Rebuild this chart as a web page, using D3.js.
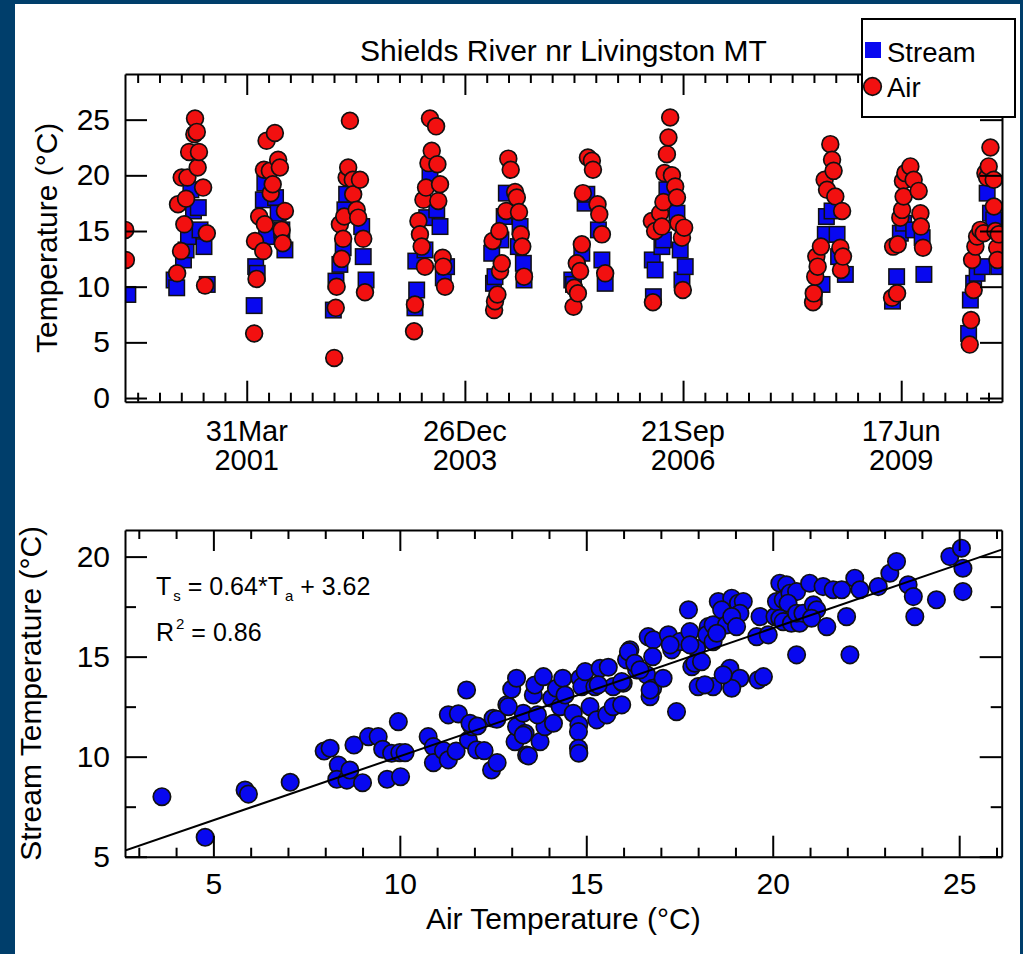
<!DOCTYPE html>
<html><head><meta charset="utf-8">
<script src="https://cdn.jsdelivr.net/npm/d3@7"></script>
<style>
html,body{margin:0;padding:0;background:#003e6b;}
svg{display:block;}
text{font-family:"Liberation Sans",Arial,Helvetica,sans-serif;fill:#000;}
</style></head><body>
<svg id="chart" width="1023" height="954"></svg>
<script>
// ---------------- DATA ----------------
const chartTitle = "Shields River nr Livingston MT";
const timeDomain = ["1999-09-20", "2010-09-22"];
const majorDateTicks = ["2001-03-31", "2003-12-26", "2006-09-21", "2009-06-17"];
const minorTickStepDays = 100;
const tempTicks = [0, 5, 10, 15, 20, 25];

const streamDates = [
 "1999-10-03",
 "2000-05-02","2000-05-14","2000-06-14","2000-06-26","2000-07-07","2000-07-18","2000-07-30","2000-08-21","2000-08-29","2000-09-16","2000-10-01",
 "2001-05-04","2001-05-11","2001-05-18","2001-06-15","2001-06-22","2001-06-30","2001-08-10","2001-08-22","2001-09-08","2001-09-22",
 "2002-05-02","2002-05-14","2002-06-01","2002-06-16","2002-06-24","2002-07-02","2002-09-09","2002-09-16","2002-09-29",
 "2003-05-11","2003-05-15","2003-05-19","2003-06-26","2003-07-04","2003-07-19","2003-08-19","2003-09-03","2003-09-18","2003-10-03",
 "2004-04-27","2004-05-05","2004-05-12","2004-06-08","2004-06-23","2004-07-03","2004-08-27","2004-09-04","2004-09-19","2004-09-22",
 "2005-04-29","2005-05-07","2005-06-14","2005-06-29","2005-07-07","2005-08-29","2005-09-14","2005-09-29",
 "2006-05-03","2006-05-08","2006-05-16","2006-06-16","2006-06-23","2006-07-09","2006-08-24","2006-09-08","2006-09-16","2006-10-01",
 "2008-05-14","2008-06-19","2008-07-04","2008-07-09","2008-08-04","2008-08-27","2008-09-03","2008-10-04",
 "2009-05-08","2009-05-27","2009-06-13","2009-06-28","2009-08-13","2009-09-21","2009-09-29",
 "2010-04-22","2010-04-30","2010-05-15","2010-05-31","2010-06-23","2010-07-16","2010-07-31","2010-08-15","2010-09-07","2010-09-15"
];
const streamTemps = [
 9.3,
 10.6,9.9,12.4,13.3,14.5,18.7,16.8,17.1,15.1,13.6,10.2,
 8.3,11.8,11.2,17.8,19.3,14.5,18.0,16.6,15.1,13.3,
 7.9,10.5,12.0,13.5,16.9,18.3,15.4,12.7,10.6,
 8.1,12.3,9.7,13.3,16.2,20.2,16.9,15.4,10.8,11.8,
 13.0,10.3,10.9,14.2,16.3,18.4,13.6,15.4,12.1,10.6,
 10.6,10.2,13.0,17.5,18.3,15.1,12.4,10.3,
 12.4,9.1,11.5,13.6,14.2,18.7,16.6,13.3,10.6,11.8,
 9.1,10.2,14.7,16.3,16.8,14.7,12.7,11.1,
 8.7,10.9,14.8,15.7,15.1,14.4,11.1,
 5.8,8.8,10.3,11.2,11.8,18.4,16.6,16.0,11.8,13.6
];

const airDates = [
 "1999-09-21","1999-09-24",
 "2000-05-16","2000-05-20","2000-06-03","2000-06-06","2000-06-18","2000-06-26","2000-07-02","2000-07-10","2000-08-03","2000-08-06","2000-08-14","2000-08-18","2000-08-24","2000-09-12","2000-09-21","2000-09-29",
 "2001-05-04","2001-05-08","2001-05-15","2001-05-27","2001-06-15","2001-06-18","2001-06-22","2001-06-30","2001-07-15","2001-07-19","2001-07-28","2001-08-07","2001-08-22","2001-08-30","2001-09-07","2001-09-12","2001-09-22",
 "2002-05-06","2002-05-13","2002-05-17","2002-06-01","2002-06-09","2002-06-16","2002-06-21","2002-07-02","2002-07-09","2002-07-17","2002-07-30","2002-08-01","2002-08-17","2002-08-24","2002-09-01","2002-09-16","2002-09-24",
 "2003-05-07","2003-05-11","2003-05-27","2003-06-03","2003-06-11","2003-06-19","2003-06-26","2003-07-01","2003-07-12","2003-07-19","2003-07-27","2003-08-16","2003-08-22","2003-08-26","2003-09-03","2003-09-15","2003-09-18","2003-09-26",
 "2004-05-01","2004-05-08","2004-05-12","2004-05-23","2004-06-01","2004-06-04","2004-06-12","2004-07-02","2004-07-12","2004-07-23","2004-08-12","2004-08-20","2004-08-30","2004-09-07","2004-09-14","2004-09-22",
 "2005-05-07","2005-05-10","2005-05-22","2005-05-27","2005-06-06","2005-06-14","2005-06-19","2005-07-12","2005-07-30","2005-08-04","2005-08-25","2005-09-02","2005-09-14","2005-09-29",
 "2006-05-01","2006-05-06","2006-05-16","2006-06-08","2006-06-16","2006-06-23","2006-06-28","2006-07-09","2006-07-16","2006-07-24","2006-08-01","2006-08-16","2006-08-24","2006-08-31","2006-09-16","2006-09-20","2006-09-26",
 "2008-05-09","2008-05-12","2008-05-19","2008-05-24","2008-05-30","2008-06-14","2008-07-01","2008-07-12","2008-07-27","2008-08-04","2008-08-11","2008-08-19","2008-09-11","2008-09-14","2008-09-19","2008-09-23",
 "2009-05-06","2009-05-11","2009-05-29","2009-06-01","2009-06-13","2009-06-21","2009-06-25","2009-06-28","2009-07-06","2009-07-29","2009-08-13","2009-09-05","2009-09-13","2009-09-15","2009-09-25",
 "2010-04-27","2010-05-03","2010-05-08","2010-05-15","2010-05-23","2010-05-31","2010-06-15","2010-06-30","2010-07-08","2010-07-16","2010-07-23","2010-07-31","2010-08-15","2010-08-16","2010-08-23","2010-08-31","2010-09-01","2010-09-07"
];
const airTemps = [
 15.1,12.4,
 11.2,17.4,13.2,19.8,15.6,17.9,19.8,22.1,23.7,25.1,23.9,20.7,22.1,18.9,10.1,14.8,
 5.8,14.1,10.7,16.3,13.2,20.5,15.6,23.1,20.4,18.4,19.2,23.8,21.4,20.7,15.1,13.9,16.8,
 3.6,8.1,10.0,15.6,12.5,14.3,16.3,19.8,20.7,24.9,19.6,18.3,16.9,16.2,19.6,14.3,9.5,
 6.0,8.4,15.9,14.7,13.6,17.8,11.8,18.9,21.1,25.1,22.2,24.4,21.0,17.7,19.2,12.6,11.8,10.0,
 14.1,7.9,8.7,9.3,15.0,11.4,12.1,16.8,21.5,20.5,18.5,18.0,16.7,14.7,13.6,10.9,
 8.2,9.9,12.1,9.4,11.4,13.8,18.4,21.6,21.3,20.5,17.4,16.5,14.7,11.2,
 15.9,8.6,15.0,16.6,15.4,17.6,20.2,21.9,23.4,25.2,20.0,19.0,18.0,15.7,14.4,9.7,15.3,
 8.6,9.4,10.9,12.7,11.8,13.6,19.6,18.7,22.8,21.4,20.4,18.1,13.5,11.5,16.8,12.7,
 9.0,13.6,9.4,13.8,16.2,16.9,19.5,18.1,20.2,20.8,19.6,18.6,16.6,15.4,13.5,
 4.8,7.0,12.4,9.7,13.6,14.5,15.1,14.8,20.2,19.8,20.8,22.5,19.6,17.2,15.0,13.5,12.4,14.7
];

// scatter: air temperature (x) vs stream temperature (y)
const scatterAirT = [
 3.62,4.78,5.85,5.94,7.06,7.97,8.13,8.35,8.31,8.58,8.66,8.77,9.0,9.16,9.42,9.54,9.66,9.78,10.02,10.0,
 10.14,9.96,10.76,10.9,10.9,11.17,11.3,11.51,11.84,12.06,12.26,12.46,12.61,11.93,13.09,13.13,13.4,13.36,13.76,13.89,
 11.79,11.3,11.57,11.88,12.5,12.87,13.0,13.13,13.58,13.62,13.85,13.31,12.08,12.6,12.91,13.31,13.45,13.69,14.12,14.07,
 14.3,14.2,14.37,14.43,14.65,14.83,14.8,14.79,14.79,14.8,14.88,14.97,15.1,15.23,15.28,15.37,15.59,15.55,15.72,15.72,
 15.95,15.99,16.08,16.17,16.35,16.62,16.66,16.8,16.78,16.71,16.78,17.06,17.2,17.29,17.51,17.42,17.74,17.78,17.83,17.96,
 18.0,15.32,15.95,16.13,16.3,16.44,16.71,17.25,17.78,17.91,18.09,18.27,18.23,18.4,18.54,18.9,18.63,18.76,19.08,19.21,
 19.12,18.9,19.03,18.4,18.5,18.85,19.12,18.9,18.4,18.18,18.67,19.66,19.57,19.61,19.75,19.88,20.06,20.1,20.19,20.37,
 20.28,20.46,20.64,20.41,20.19,20.28,20.5,20.72,20.64,20.81,21.09,21.18,20.99,21.04,20.64,21.45,21.35,21.62,21.85,21.98,
 22.07,22.2,22.34,22.83,23.14,23.32,23.63,23.77,23.81,24.39,24.75,25.06,25.1,25.1
];
const scatterStreamT = [
 8.0,5.97,8.33,8.13,8.72,10.28,10.42,9.58,8.87,8.83,9.33,10.58,8.7,11.0,11.0,10.37,8.87,10.17,9.0,10.2,
 10.2,11.75,11.0,10.5,9.7,10.3,9.84,10.28,10.83,10.34,10.3,9.33,9.7,11.5,10.75,11.5,10.08,11.17,10.75,11.5,
 13.33,12.09,12.14,11.67,11.92,12.59,13.37,13.92,13.08,13.58,14.0,12.17,11.53,11.87,12.5,11.08,10.04,12.09,11.67,12.92,
 12.5,13.42,13.92,13.08,12.17,13.92,11.59,11.25,10.42,10.17,13.5,14.25,12.5,13.5,11.84,14.42,14.47,12.09,12.5,13.5,
 12.59,13.67,14.84,15.34,14.34,14.09,16.0,15.84,13.42,13.0,15.0,13.92,16.09,15.34,15.75,12.25,17.34,16.25,14.5,15.42,
 13.5,13.59,13.75,15.25,14.67,14.34,13.33,15.59,15.59,14.67,14.75,16.5,16.09,16.59,17.75,17.92,17.34,16.59,17.67,17.75,
 17.17,17.0,16.5,15.75,16.17,14.42,13.92,13.42,13.5,13.59,14.09,17.0,16.0,13.84,14.0,16.09,17.0,17.75,18.67,18.59,
 17.84,18.17,18.25,17.67,16.92,16.75,16.67,16.67,17.17,17.17,17.59,17.34,18.67,16.92,15.09,16.5,18.5,18.34,18.34,17.0,
 15.09,18.92,18.34,18.5,19.17,19.75,18.59,18.0,17.0,17.84,20.0,20.42,19.42,18.25
];
const fitSlope = 0.64, fitIntercept = 3.62, fitR2 = 0.86;
const scatterXDomain = [2.63, 26.14];
const scatterYDomain = [5, 21.33];
const scatterXMajor = [5, 10, 15, 20, 25];
const scatterXMinor = [3,4,6,7,8,9,11,12,13,14,16,17,18,19,21,22,23,24,26];
const scatterYMajor = [5, 10, 15, 20];
const scatterYMinor = [7.5, 12.5, 17.5];

// ---------------- DRAW ----------------
const FONT = 30;
const BLUE = "#0808f0", RED = "#f21010";
const svg = d3.select("#chart");
const parse = d3.utcParse("%Y-%m-%d");

svg.append("rect").attr("x",0).attr("y",0).attr("width",1023).attr("height",954).attr("fill","#003e6b");
svg.append("rect").attr("x",15).attr("y",4).attr("width",1005).attr("height",950).attr("fill","#fff");

function styleAxis(g){
  g.attr("font-size",null).attr("font-family",null);
  g.selectAll(".domain").attr("stroke","#000").attr("stroke-width",2);
  g.selectAll(".tick line").attr("stroke","#000").attr("stroke-width",2);
  g.selectAll(".tick text").attr("font-size",FONT).attr("fill","#000");
}

// ===== Top: time series =====
const tp = {l:125, r:1002, t:74, b:401.7};
const xTime = d3.scaleUtc().domain(timeDomain.map(parse)).range([tp.l, tp.r]);
const yTop = d3.scaleLinear().domain([-0.33, 29.1]).range([tp.b, tp.t]);

const majors = majorDateTicks.map(parse);
const dom = xTime.domain();
const minors = d3.range(-10, 40).map(k => d3.utcDay.offset(majors[0], k*minorTickStepDays))
  .filter(d => d > dom[0] && d < dom[1] && !majors.some(m => +m === +d));

svg.append("defs").append("clipPath").attr("id","clipTop")
  .append("rect").attr("x",tp.l).attr("y",tp.t).attr("width",tp.r-tp.l).attr("height",tp.b-tp.t);

const markTop = svg.append("g").attr("clip-path","url(#clipTop)");
const sq = 15.5;
markTop.selectAll("rect.stream").data(streamDates.map((d,i)=>({d:parse(d), v:streamTemps[i]})))
  .join("rect").attr("class","stream")
  .attr("x", p => xTime(p.d)-sq/2).attr("y", p => yTop(p.v)-sq/2)
  .attr("width",sq).attr("height",sq)
  .attr("fill",BLUE).attr("stroke","#111").attr("stroke-width",1.5);
markTop.selectAll("circle.air").data(airDates.map((d,i)=>({d:parse(d), v:airTemps[i]})))
  .join("circle").attr("class","air")
  .attr("cx", p => xTime(p.d)).attr("cy", p => yTop(p.v)).attr("r",8.4)
  .attr("fill",RED).attr("stroke","#111").attr("stroke-width",1.7);

// axes
svg.append("g").attr("transform",`translate(${tp.l},0)`)
  .call(d3.axisLeft(yTop).tickValues(tempTicks).tickSize(-22).tickSizeOuter(0).tickPadding(15))
  .call(styleAxis);
svg.append("g").attr("transform",`translate(${tp.r},0)`)
  .call(d3.axisRight(yTop).tickValues(tempTicks).tickSize(-22).tickSizeOuter(0).tickFormat(""))
  .call(styleAxis);
svg.append("g").attr("transform",`translate(0,${tp.b})`)
  .call(d3.axisBottom(xTime).tickValues(majors).tickSize(-21).tickSizeOuter(0).tickFormat(""))
  .call(styleAxis);
svg.append("g").attr("transform",`translate(0,${tp.b})`)
  .call(d3.axisBottom(xTime).tickValues(minors).tickSize(-9).tickSizeOuter(0).tickFormat(""))
  .call(styleAxis).call(g=>g.select(".domain").remove());
svg.append("g").attr("transform",`translate(0,${tp.t})`)
  .call(d3.axisTop(xTime).tickValues(majors).tickSize(-21).tickSizeOuter(0).tickFormat(""))
  .call(styleAxis);
svg.append("g").attr("transform",`translate(0,${tp.t})`)
  .call(d3.axisTop(xTime).tickValues(minors).tickSize(-9).tickSizeOuter(0).tickFormat(""))
  .call(styleAxis).call(g=>g.select(".domain").remove());

// date labels (two lines, as separate texts)
const fmtDM = d3.utcFormat("%d%b"), fmtY = d3.utcFormat("%Y");
const dlg = svg.append("g").attr("font-size",29).attr("text-anchor","middle");
dlg.selectAll("text.dm").data(majors).join("text").attr("class","dm")
  .attr("x", d => xTime(d)).attr("y", tp.b + 39.5).text(d => fmtDM(d));
dlg.selectAll("text.yr").data(majors).join("text").attr("class","yr")
  .attr("x", d => xTime(d)).attr("y", tp.b + 68).text(d => fmtY(d));

// title
svg.append("text").attr("x",(tp.l+tp.r)/2).attr("y",61).attr("text-anchor","middle")
  .attr("font-size",FONT).text(chartTitle);
// y label
svg.append("text").attr("transform",`translate(57,${(tp.t+tp.b)/2}) rotate(-90)`)
  .attr("text-anchor","middle").attr("font-size",FONT).text("Temperature (°C)");

// legend
const lg = svg.append("g");
lg.append("rect").attr("x",862).attr("y",19).attr("width",153).attr("height",98)
  .attr("fill","#fff").attr("stroke","#000").attr("stroke-width",2);
lg.append("rect").attr("x",865).attr("y",42).attr("width",16).attr("height",16).attr("fill",BLUE);
lg.append("text").attr("x",887).attr("y",62).attr("font-size",27.5).text("Stream");
lg.append("circle").attr("cx",872.5).attr("cy",86.5).attr("r",8.8).attr("fill",RED)
  .attr("stroke","#111").attr("stroke-width",1.7);
lg.append("text").attr("x",887).attr("y",97).attr("font-size",27.5).text("Air");

// ===== Bottom: scatter =====
const bp = {l:125, r:1001.7, t:530, b:856.7};
const xs = d3.scaleLinear().domain(scatterXDomain).range([bp.l, bp.r]);
const ys = d3.scaleLinear().domain(scatterYDomain).range([bp.b, bp.t]);

svg.select("defs").append("clipPath").attr("id","clipBot")
  .append("rect").attr("x",bp.l).attr("y",bp.t).attr("width",bp.r-bp.l).attr("height",bp.b-bp.t);
const markBot = svg.append("g").attr("clip-path","url(#clipBot)");
markBot.selectAll("circle").data(scatterAirT.map((a,i)=>({a, s:scatterStreamT[i]})))
  .join("circle").attr("cx",p=>xs(p.a)).attr("cy",p=>ys(p.s)).attr("r",8.7)
  .attr("fill",BLUE).attr("stroke","#111").attr("stroke-width",1.7);
const xd = xs.domain();
markBot.append("line")
  .attr("x1",xs(xd[0])).attr("y1",ys(fitSlope*xd[0]+fitIntercept))
  .attr("x2",xs(xd[1])).attr("y2",ys(fitSlope*xd[1]+fitIntercept))
  .attr("stroke","#000").attr("stroke-width",2);

svg.append("g").attr("transform",`translate(${bp.l},0)`)
  .call(d3.axisLeft(ys).tickValues(scatterYMajor).tickSize(-22).tickSizeOuter(0).tickPadding(15))
  .call(styleAxis);
svg.append("g").attr("transform",`translate(${bp.l},0)`)
  .call(d3.axisLeft(ys).tickValues(scatterYMinor).tickSize(-11).tickSizeOuter(0).tickFormat(""))
  .call(styleAxis).call(g=>g.select(".domain").remove());
svg.append("g").attr("transform",`translate(${bp.r},0)`)
  .call(d3.axisRight(ys).tickValues(scatterYMajor).tickSize(-22).tickSizeOuter(0).tickFormat(""))
  .call(styleAxis);
svg.append("g").attr("transform",`translate(${bp.r},0)`)
  .call(d3.axisRight(ys).tickValues(scatterYMinor).tickSize(-11).tickSizeOuter(0).tickFormat(""))
  .call(styleAxis).call(g=>g.select(".domain").remove());
svg.append("g").attr("transform",`translate(0,${bp.b})`)
  .call(d3.axisBottom(xs).tickValues(scatterXMajor).tickSize(-21).tickSizeOuter(0).tickPadding(16))
  .call(styleAxis);
svg.append("g").attr("transform",`translate(0,${bp.b})`)
  .call(d3.axisBottom(xs).tickValues(scatterXMinor).tickSize(-9).tickSizeOuter(0).tickFormat(""))
  .call(styleAxis).call(g=>g.select(".domain").remove());
svg.append("g").attr("transform",`translate(0,${bp.t})`)
  .call(d3.axisTop(xs).tickValues(scatterXMajor).tickSize(-21).tickSizeOuter(0).tickFormat(""))
  .call(styleAxis);
svg.append("g").attr("transform",`translate(0,${bp.t})`)
  .call(d3.axisTop(xs).tickValues(scatterXMinor).tickSize(-9).tickSizeOuter(0).tickFormat(""))
  .call(styleAxis).call(g=>g.select(".domain").remove());

svg.append("text").attr("x",(bp.l+bp.r)/2).attr("y",929).attr("text-anchor","middle")
  .attr("font-size",FONT).text("Air Temperature (°C)");
svg.append("text").attr("transform",`translate(41,${(bp.t+bp.b)/2}) rotate(-90)`)
  .attr("text-anchor","middle").attr("font-size",FONT).text("Stream Temperature (°C)");

// equation
const eq = svg.append("text").attr("x",156).attr("y",595).attr("font-size",25);
eq.append("tspan").text("T");
eq.append("tspan").attr("font-size",15).attr("dy",6).attr("dx",2).text("s");
eq.append("tspan").attr("dy",-6).text(` = ${fitSlope.toFixed(2)}*T`);
eq.append("tspan").attr("font-size",15).attr("dy",6).attr("dx",2).text("a");
eq.append("tspan").attr("dy",-6).text(` + ${fitIntercept.toFixed(2)}`);
const r2t = svg.append("text").attr("x",156).attr("y",641).attr("font-size",25);
r2t.append("tspan").text("R");
r2t.append("tspan").attr("font-size",15).attr("dy",-12).attr("dx",2).text("2");
r2t.append("tspan").attr("dy",12).text(` = ${fitR2.toFixed(2)}`);
</script>
</body></html>
